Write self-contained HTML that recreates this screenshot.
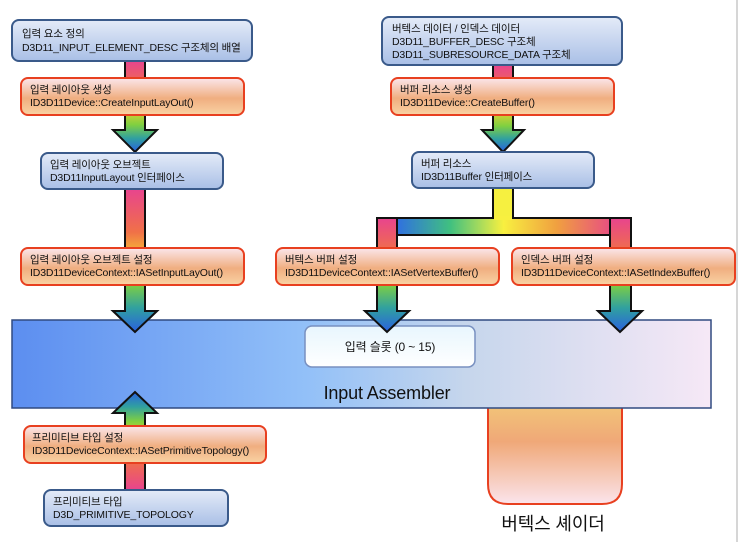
<!DOCTYPE html>
<html><head><meta charset="utf-8"><style>
html,body{margin:0;padding:0;background:#fff;width:742px;height:542px;overflow:hidden}
text{font-family:"Liberation Sans","Noto Sans CJK KR",sans-serif;font-size:10.5px;fill:#111;letter-spacing:-0.15px}
</style></head><body>
<svg width="742" height="542" viewBox="0 0 742 542" xmlns="http://www.w3.org/2000/svg">
<defs>
<linearGradient id="bl" x1="0" y1="0" x2="0" y2="1"><stop offset="0" stop-color="#e4ebf8"/><stop offset="1" stop-color="#a9bfe6"/></linearGradient>
<linearGradient id="or" x1="0" y1="0" x2="0" y2="1"><stop offset="0" stop-color="#fbe6ec"/><stop offset="0.55" stop-color="#f0ae80"/><stop offset="1" stop-color="#f9d3a4"/></linearGradient>
<linearGradient id="ar" x1="0" y1="0" x2="0" y2="1"><stop offset="0" stop-color="#e8448e"/><stop offset="0.3" stop-color="#f07048"/><stop offset="0.5" stop-color="#f8d030"/><stop offset="0.7" stop-color="#80d040"/><stop offset="0.85" stop-color="#30a0a0"/><stop offset="1" stop-color="#2a60e0"/></linearGradient>
<linearGradient id="lo" gradientUnits="userSpaceOnUse" x1="0" y1="284" x2="0" y2="332"><stop offset="0" stop-color="#80d040"/><stop offset="0.5" stop-color="#30a0a0"/><stop offset="1" stop-color="#2a60e0"/></linearGradient>
<linearGradient id="up" gradientUnits="userSpaceOnUse" x1="0" y1="426" x2="0" y2="392"><stop offset="0" stop-color="#80d040"/><stop offset="0.5" stop-color="#30a0a0"/><stop offset="1" stop-color="#2a60e0"/></linearGradient>
<linearGradient id="au" gradientUnits="userSpaceOnUse" x1="0" y1="490" x2="0" y2="392"><stop offset="0" stop-color="#e8448e"/><stop offset="0.3" stop-color="#f07048"/><stop offset="0.5" stop-color="#f8d030"/><stop offset="0.7" stop-color="#80d040"/><stop offset="0.85" stop-color="#30a0a0"/><stop offset="1" stop-color="#2a60e0"/></linearGradient>
<linearGradient id="bar" x1="0" y1="0" x2="1" y2="0"><stop offset="0" stop-color="#3070e0"/><stop offset="0.25" stop-color="#40c080"/><stop offset="0.5" stop-color="#f8f040"/><stop offset="0.75" stop-color="#f0a040"/><stop offset="1" stop-color="#e85080"/></linearGradient>
<linearGradient id="ia" x1="0" y1="0" x2="1" y2="0"><stop offset="0" stop-color="#5c8ef0"/><stop offset="0.42" stop-color="#92c0f8"/><stop offset="0.65" stop-color="#c6d6ec"/><stop offset="1" stop-color="#f6e8f6"/></linearGradient>
<linearGradient id="sl" x1="0" y1="0" x2="0" y2="1"><stop offset="0" stop-color="#e8f6fe"/><stop offset="1" stop-color="#ffffff"/></linearGradient>
<linearGradient id="vs" x1="0" y1="0" x2="0" y2="1"><stop offset="0" stop-color="#f2c878"/><stop offset="0.4" stop-color="#f0a878"/><stop offset="1" stop-color="#fbe4ec"/></linearGradient>
</defs>
<line x1="737" y1="0" x2="737" y2="542" stroke="#c8c8c8" stroke-width="1.5"/>

<!-- arrows left -->
<polygon points="125,61 145,61 145,130 157,130 135,152 113,130 125,130" fill="url(#ar)" stroke="#111" stroke-width="2"/>
<polygon points="125,189 145,189 145,311 157,311 135,332 113,311 125,311" fill="url(#ar)" stroke="#111" stroke-width="2"/>
<!-- arrows right -->
<polygon points="493,65 513,65 513,130 524,130 503,152 482,130 493,130" fill="url(#ar)" stroke="#111" stroke-width="2"/>
<polygon points="493,188 513,188 513,218 493,218" fill="#f6f040" stroke="#111" stroke-width="2"/>
<polygon points="377,218 397,218 397,311 409,311 387,332 365,311 377,311" fill="url(#ar)" stroke="#111" stroke-width="2"/>
<polygon points="610,218 631,218 631,311 642,311 620,332 598,311 610,311" fill="url(#ar)" stroke="#111" stroke-width="2"/>
<rect x="397" y="218" width="213" height="17" fill="url(#bar)" stroke="#111" stroke-width="2"/>
<rect x="494" y="216" width="18" height="4" fill="#f8f040"/>

<!-- vertex shader -->
<path d="M488,400 V484 Q488,504 508,504 H602 Q622,504 622,484 V400" fill="url(#vs)" stroke="#e84020" stroke-width="2"/>

<!-- IA -->
<rect x="12" y="320" width="699" height="88" fill="url(#ia)" stroke="#304a80" stroke-width="1.5"/>
<rect x="305" y="326" width="170" height="41" rx="7" fill="url(#sl)" stroke="#7890c0" stroke-width="1.5"/>
<text x="390" y="351" text-anchor="middle" style="font-size:12px">입력 슬롯 (0 ~ 15)</text>
<text x="387" y="399" text-anchor="middle" style="font-size:18px">Input Assembler</text>

<!-- arrow heads over IA -->
<polygon points="125,285 145,285 145,311 157,311 135,332 113,311 125,311" fill="url(#lo)" stroke="#111" stroke-width="2"/>
<polygon points="377,285 397,285 397,311 409,311 387,332 365,311 377,311" fill="url(#lo)" stroke="#111" stroke-width="2"/>
<polygon points="610,285 631,285 631,311 642,311 620,332 598,311 610,311" fill="url(#lo)" stroke="#111" stroke-width="2"/>

<!-- up arrow -->
<polygon points="125,490 145,490 145,413 157,413 135,392 113,413 125,413" fill="url(#au)" stroke="#111" stroke-width="2"/>

<!-- boxes -->
<rect x="12" y="20" width="240" height="41" rx="7" fill="url(#bl)" stroke="#3a5a8a" stroke-width="2"/>
<text x="22" y="37">입력 요소 정의</text><text x="22" y="51">D3D11_INPUT_ELEMENT_DESC 구조체의 배열</text>
<rect x="21" y="78" width="223" height="37" rx="7" fill="url(#or)" stroke="#e84020" stroke-width="2"/>
<text x="30" y="93">입력 레이아웃 생성</text><text x="30" y="106">ID3D11Device::CreateInputLayOut()</text>
<rect x="41" y="153" width="182" height="36" rx="7" fill="url(#bl)" stroke="#3a5a8a" stroke-width="2"/>
<text x="50" y="168">입력 레이아웃 오브젝트</text><text x="50" y="181">D3D11InputLayout 인터페이스</text>
<rect x="21" y="248" width="223" height="37" rx="7" fill="url(#or)" stroke="#e84020" stroke-width="2"/>
<text x="30" y="263">입력 레이아웃 오브젝트 설정</text><text x="30" y="276">ID3D11DeviceContext::IASetInputLayOut()</text>

<rect x="382" y="17" width="240" height="48" rx="7" fill="url(#bl)" stroke="#3a5a8a" stroke-width="2"/>
<text x="392" y="32">버텍스 데이터 / 인덱스 데이터</text><text x="392" y="45">D3D11_BUFFER_DESC 구조체</text><text x="392" y="58">D3D11_SUBRESOURCE_DATA 구조체</text>
<rect x="391" y="78" width="223" height="37" rx="7" fill="url(#or)" stroke="#e84020" stroke-width="2"/>
<text x="400" y="93">버퍼 리소스 생성</text><text x="400" y="106">ID3D11Device::CreateBuffer()</text>
<rect x="412" y="152" width="182" height="36" rx="7" fill="url(#bl)" stroke="#3a5a8a" stroke-width="2"/>
<text x="421" y="167">버퍼 리소스</text><text x="421" y="180">ID3D11Buffer 인터페이스</text>
<rect x="276" y="248" width="223" height="37" rx="7" fill="url(#or)" stroke="#e84020" stroke-width="2"/>
<text x="285" y="263">버텍스 버퍼 설정</text><text x="285" y="276">ID3D11DeviceContext::IASetVertexBuffer()</text>
<rect x="512" y="248" width="223" height="37" rx="7" fill="url(#or)" stroke="#e84020" stroke-width="2"/>
<text x="521" y="263">인덱스 버퍼 설정</text><text x="521" y="276">ID3D11DeviceContext::IASetIndexBuffer()</text>

<rect x="24" y="426" width="242" height="37" rx="7" fill="url(#or)" stroke="#e84020" stroke-width="2"/>
<text x="32" y="441">프리미티브 타입 설정</text><text x="32" y="454">ID3D11DeviceContext::IASetPrimitiveTopology()</text>
<rect x="44" y="490" width="184" height="36" rx="7" fill="url(#bl)" stroke="#3a5a8a" stroke-width="2"/>
<text x="53" y="505">프리미티브 타입</text><text x="53" y="518">D3D_PRIMITIVE_TOPOLOGY</text>

<text x="553" y="530" text-anchor="middle" style="font-size:18px">버텍스 셰이더</text>
</svg>
</body></html>
